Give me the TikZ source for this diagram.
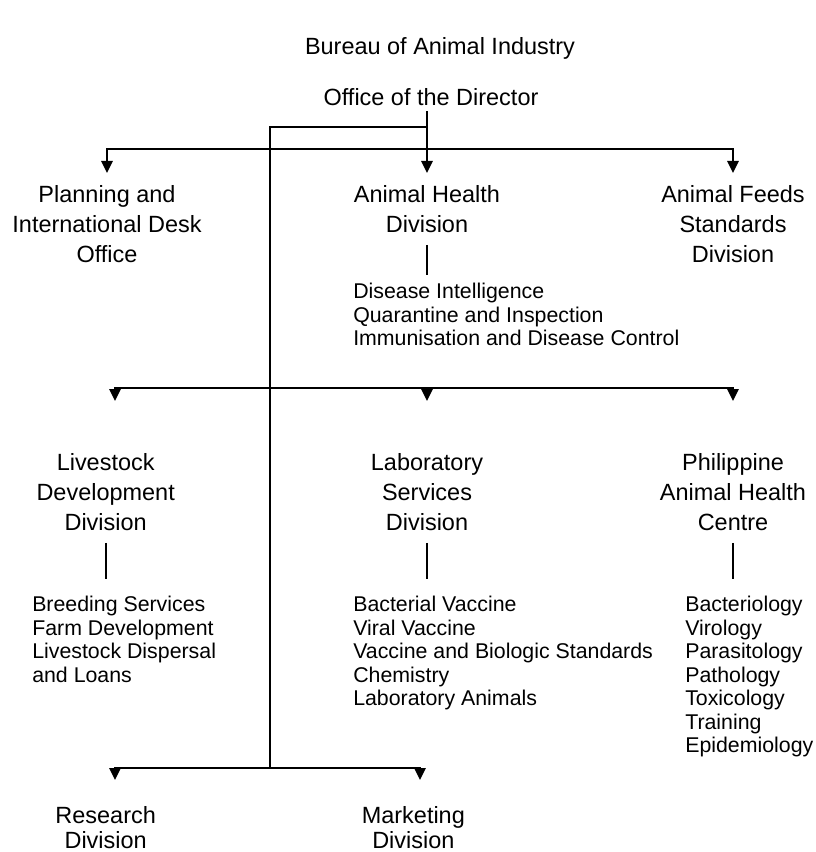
\documentclass[tikz,border=0pt]{standalone}
\usepackage{fontspec}
\setmainfont{Liberation Sans}
\usetikzlibrary{positioning,arrows.meta}
\tikzset{
  unit/.style  = {align=center, inner sep=0pt, font=\fontsize{17.6}{22.5}\selectfont},
  tight/.style = {font=\fontsize{17.6}{18.75}\selectfont},
  tasks/.style = {align=left, inner sep=0pt, anchor=north west, font=\fontsize{16}{17.6}\selectfont},
  link/.style  = {line width=1.5pt},
  post/.style  = {link, -{Triangle[width=8.5pt,length=9pt]}},
  bar/.style   = {link, shorten <=9pt}
}

\begin{document}
\begin{tikzpicture}[x=0.75pt, y=-0.75pt]
  \useasboundingbox (0,0) rectangle (815,852);

  \node[unit] (bai) at (440,48) {Bureau of Animal Industry};
  \node[unit] (dir) at (431,97) {Office of the Director};

  % junctions on the main line
  \coordinate (j0) at (270,127);
  \coordinate (h1) at (270,149);
  \coordinate (h2) at (270,388);
  \coordinate (h3) at (270,768);
  % arrow tips
  \coordinate (t1) at (107,173);
  \coordinate (t2) at (427,173);
  \coordinate (t3) at (733,173);
  \coordinate (t4) at (115,401);
  \coordinate (t5) at (427,401);
  \coordinate (t6) at (733,401);
  \coordinate (t7) at (115,780);
  \coordinate (t8) at (420,780);

  \node[unit, below=9pt of t1] (pido) {Planning and\\International Desk\\Office};
  \node[unit, below=9pt of t2] (ahd)  {Animal Health\\Division};
  \node[unit, below=9pt of t3] (afsd) {Animal Feeds\\Standards\\Division};
  \node[unit, below=39pt of t4, xshift=-7pt] (ldd)  {Livestock\\Development\\Division};
  \node[unit, below=39pt of t5] (lsd)  {Laboratory\\Services\\Division};
  \node[unit, below=39pt of t6] (pahc) {Philippine\\Animal Health\\Centre};
  \node[unit, tight, below=20pt of t7, xshift=-7pt] (rd)  {Research\\Division};
  \node[unit, tight, below=20pt of t8, xshift=-5pt] (mkd) {Marketing\\Division};

  \node[tasks] (ahdl) at (353,283)
    {Disease Intelligence\\Quarantine and Inspection\\Immunisation and Disease Control};
  \node[tasks] (lddl) at (32,596)
    {Breeding Services\\Farm Development\\Livestock Dispersal\\and Loans};
  \node[tasks] (lsdl) at (353,596)
    {Bacterial Vaccine\\Viral Vaccine\\Vaccine and Biologic Standards\\Chemistry\\Laboratory Animals};
  \node[tasks] (pahcl) at (685,596)
    {Bacteriology\\Virology\\Parasitology\\Pathology\\Toxicology\\Training\\Epidemiology};

  % director to the divisions
  \draw[post, shorten <=4pt] (t2 |- dir.south) -- (t2);
  \draw[link] (t2 |- j0) -- (j0) -- (h3);
  \draw[post] (h1) -| (t1);
  \draw[post] (h1) -| (t3);
  \draw[post] (h2) -| (t4);
  \draw[post] (h2) -| (t5);
  \draw[post] (h2) -| (t6);
  \draw[post] (h3) -| (t7);
  \draw[post] (h3) -| (t8);

  % divisions to their sections
  \draw[bar, shorten >=6pt]    (ahd.south)  -- (ahd.south |- ahdl.north);
  \draw[bar, shorten >=13pt]   (ldd.south)  -- (ldd.south |- lddl.north);
  \draw[bar, shorten >=13pt]   (lsd.south)  -- (lsd.south |- lsdl.north);
  \draw[bar, shorten >=13pt]   (pahc.south) -- (pahc.south |- pahcl.north);
\end{tikzpicture}
\end{document}
